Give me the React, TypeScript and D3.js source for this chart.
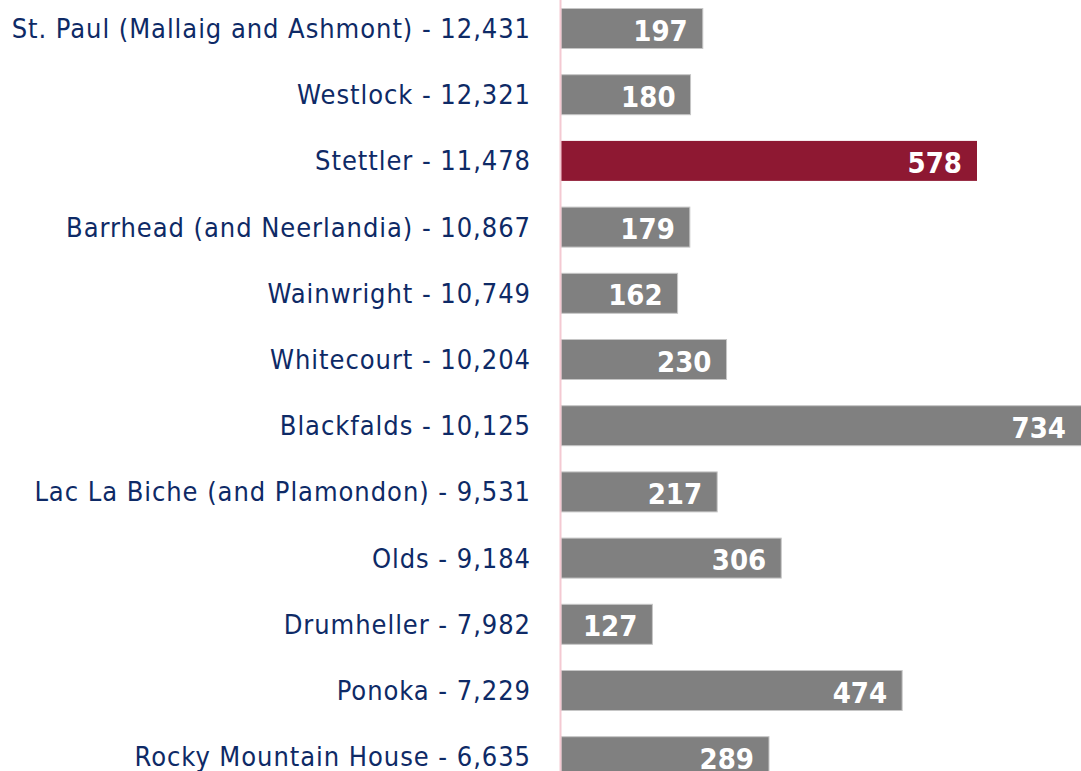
import React from "react";
import * as d3 from "d3";

const categories: string[] = [
  "St. Paul (Mallaig and Ashmont) - 12,431",
  "Westlock - 12,321",
  "Stettler - 11,478",
  "Barrhead (and Neerlandia) - 10,867",
  "Wainwright - 10,749",
  "Whitecourt - 10,204",
  "Blackfalds - 10,125",
  "Lac La Biche (and Plamondon) - 9,531",
  "Olds - 9,184",
  "Drumheller - 7,982",
  "Ponoka - 7,229",
  "Rocky Mountain House - 6,635",
];

const values: number[] = [197, 180, 578, 179, 162, 230, 734, 217, 306, 127, 474, 289];

const highlighted: string[] = ["Stettler - 11,478"];

const W = 1081;
const H = 771;
const axisX = 561;
const FONT = "'DejaVu Sans Condensed', 'DejaVu Sans', sans-serif";

export default function App() {
  const x = d3.scaleLinear().domain([0, 578]).range([axisX, 977]);
  const step = 66.2;
  const c0 = 28.5;
  const y = d3
    .scaleBand<string>()
    .domain(categories)
    .range([c0 - step / 2, c0 - step / 2 + step * categories.length])
    .paddingInner(0.396)
    .paddingOuter(0.198);
  const bw = y.bandwidth();

  return (
    <svg
      width={W}
      height={H}
      style={{ position: "absolute", left: 0, top: 0, background: "#fff", overflow: "hidden" }}
    >
      {categories.map((c, i) => {
        const y0 = y(c) as number;
        const xe = x(values[i]);
        const hl = highlighted.includes(c);
        const labelX = Math.min(xe, W) - 15;
        return (
          <g key={c}>
            <text
              x={531}
              y={y0 + bw / 2}
              dy="0.35em"
              textAnchor="end"
              fontFamily={FONT}
              fontSize={27}
              letterSpacing={0.95}
              fill="#0e2a66"
            >
              {c}
            </text>
            <rect
              x={axisX}
              y={y0}
              width={xe - axisX}
              height={bw}
              fill={hl ? "#8e1832" : "#808080"}
              stroke={hl ? "none" : "#c6c6c6"}
              strokeWidth={1}
            />
            <text
              x={labelX}
              y={y0 + bw / 2}
              dy="0.42em"
              textAnchor="end"
              fontFamily={FONT}
              fontWeight="bold"
              fontSize={29}
              fill="#ffffff"
            >
              {values[i]}
            </text>
          </g>
        );
      })}
      <line x1={axisX - 0.5} x2={axisX - 0.5} y1={0} y2={H} stroke="#f4c9d2" strokeWidth={2} />
    </svg>
  );
}
